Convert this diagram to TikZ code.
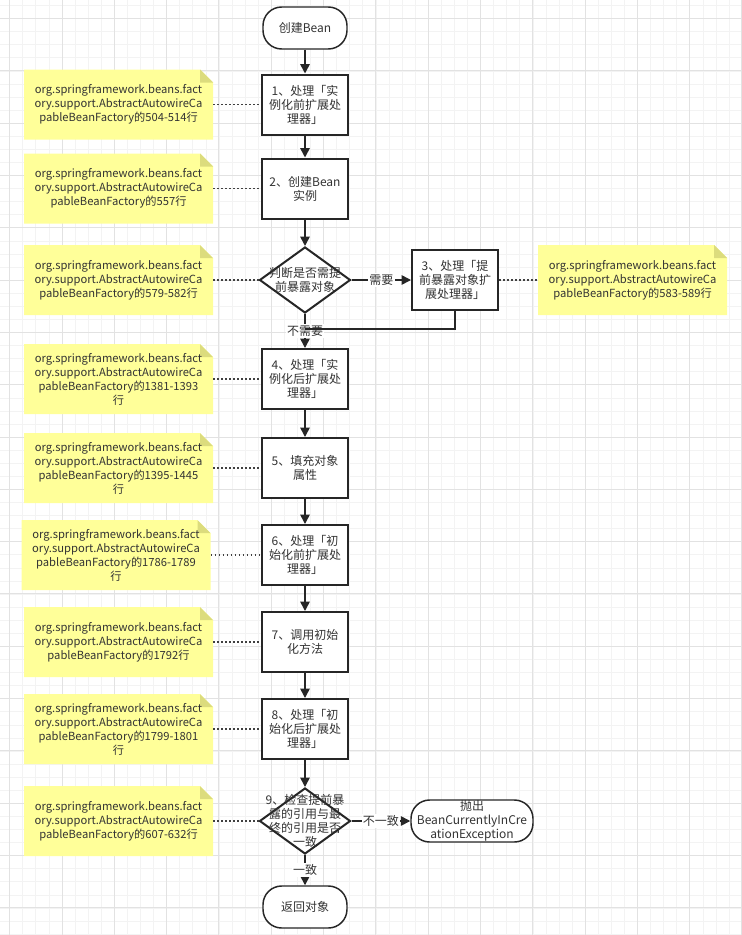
\documentclass[tikz,border=0pt]{standalone}
\usepackage{fontspec}
\setmainfont{Noto Sans CJK SC}
\usetikzlibrary{shapes.geometric,arrows.meta}

\definecolor{notefill}{RGB}{255,255,153}
\definecolor{notefold}{RGB}{220,220,125}
\definecolor{ink}{RGB}{51,51,51}
\definecolor{gridmin}{RGB}{243,243,243}
\definecolor{gridmaj}{RGB}{226,226,226}

\begin{document}
\begin{tikzpicture}[x=0.75pt,y=-0.75pt,
  font=\fontsize{9pt}{10.5pt}\selectfont,text=ink,
  flow/.style={draw=black!85,line width=1.5pt,fill=white,align=center,
    minimum width=64.5pt,minimum height=45pt,inner sep=0pt},
  term/.style={draw=black!85,line width=1.1pt,fill=white,align=center,
    rounded corners=14pt,minimum height=31.5pt,inner sep=0pt},
  decide/.style={diamond,draw=black!85,line width=1.5pt,fill=white,
    minimum width=68.25pt,minimum height=49.5pt,inner sep=0pt},
  dtext/.style={align=center,inner sep=0pt},
  notetext/.style={align=center,inner sep=0pt,font=\fontsize{8.4pt}{10.5pt}\selectfont,
    minimum width=141.75pt,minimum height=52.5pt},
  arr/.style={draw=black!85,line width=1.2pt,-{Triangle[length=7pt,width=7pt]}},
  line/.style={draw=black!85,line width=1.2pt},
  link/.style={draw=black!75,line width=0.9pt,dash pattern=on 1.2pt off 1.8pt},
  elabel/.style={fill=white,inner sep=1pt}]

% background and grid
\fill[white] (0,0) rectangle (742,935);
\useasboundingbox (0,0) rectangle (742,935);
\foreach \i in {0,...,57}
  \draw[gridmin,line width=0.6pt] (-3.38+13.08*\i,0) -- ++(0,935);
\foreach \i in {0,...,71}
  \draw[gridmin,line width=0.6pt] (0,5.52+13.08*\i) -- ++(742,0);
\foreach \i in {0,...,14}
  \draw[gridmaj,line width=0.7pt] (9.7+52.3*\i,0) -- ++(0,935);
\foreach \i in {0,...,17}
  \draw[gridmaj,line width=0.7pt] (0,18.6+52.3*\i) -- ++(742,0);

% notes
\foreach \nm/\cx/\cy/\txt in {
  n1/118.5/104.5/{org.springframework.beans.fact\\ory.support.AbstractAutowireCa\\pableBeanFactory的504-514行},
  n2/118.5/188.5/{org.springframework.beans.fact\\ory.support.AbstractAutowireCa\\pableBeanFactory的557行},
  nd/118.5/280/{org.springframework.beans.fact\\ory.support.AbstractAutowireCa\\pableBeanFactory的579-582行},
  n3/632.5/280/{org.springframework.beans.fact\\ory.support.AbstractAutowireCa\\pableBeanFactory的583-589行},
  n4/118.5/379/{org.springframework.beans.fact\\ory.support.AbstractAutowireCa\\pableBeanFactory的1381-1393\\行},
  n5/118.5/468/{org.springframework.beans.fact\\ory.support.AbstractAutowireCa\\pableBeanFactory的1395-1445\\行},
  n6/116/555/{org.springframework.beans.fact\\ory.support.AbstractAutowireCa\\pableBeanFactory的1786-1789\\行},
  n7/118.5/642/{org.springframework.beans.fact\\ory.support.AbstractAutowireCa\\pableBeanFactory的1792行},
  n8/118.5/729/{org.springframework.beans.fact\\ory.support.AbstractAutowireCa\\pableBeanFactory的1799-1801\\行},
  n9/118.5/821/{org.springframework.beans.fact\\ory.support.AbstractAutowireCa\\pableBeanFactory的607-632行}}
{
  \begin{scope}[shift={(\cx,\cy)}]
    \fill[notefill] (-94.5,-35) -- (81.5,-35) -- (94.5,-22) -- (94.5,35) -- (-94.5,35) -- cycle;
    \fill[notefold] (81.5,-35) -- (81.5,-22) -- (94.5,-22) -- cycle;
    \node[notetext] (\nm) at (0,0) {\txt};
  \end{scope}
}

% flow
\node[term,minimum width=63pt] (start) at (305,28) {创建Bean};
\node[flow] (b1) at (305,104.5) {1、处理「实\\例化前扩展处\\理器」};
\node[flow] (b2) at (305,188.5) {2、创建Bean\\实例};
\node[decide] (d1) at (305,280) {};
\node[dtext] (d1t) at (305,280) {判断是否需提\\前暴露对象};
\node[flow] (b3) at (455,280) {3、处理「提\\前暴露对象扩\\展处理器」};
\node[flow] (b4) at (305,379) {4、处理「实\\例化后扩展处\\理器」};
\node[flow] (b5) at (305,468) {5、填充对象\\属性};
\node[flow] (b6) at (305,555) {6、处理「初\\始化前扩展处\\理器」};
\node[flow] (b7) at (305,642) {7、调用初始\\化方法};
\node[flow] (b8) at (305,729) {8、处理「初\\始化后扩展处\\理器」};
\node[decide] (d9) at (305,821) {};
\node[term,minimum width=91.5pt] (exc) at (472,821) {抛出\\BeanCurrentlyInCre\\ationException};
\node[term,minimum width=63pt] (end) at (305,907) {返回对象};

\draw[arr] (start) -- (b1);
\draw[arr] (b1) -- (b2);
\draw[arr] (b2) -- (d1);
\draw[arr] (d1) -- node[elabel] {需要} (b3);
\draw[arr] (d1) -- node[elabel,pos=0.5] {不需要} (b4);
\coordinate (m3) at (455,329);
\coordinate (j3) at (305,329);
\draw[line] (b3.south) -- (m3) -- (j3);
\draw[arr] (b4) -- (b5);
\draw[arr] (b5) -- (b6);
\draw[arr] (b6) -- (b7);
\draw[arr] (b7) -- (b8);
\draw[arr] (b8) -- (d9);
\node[dtext] (d9t) at (305,821) {9、检查提前暴\\露的引用与最\\终的引用是否\\一致};
\draw[arr] (d9) -- node[elabel] {不一致} (exc);
\draw[arr] (d9) -- node[elabel] {一致} (end);

% dotted links
\foreach \a/\b in {n1/b1,n2/b2,nd/d1,n4/b4,n5/b5,n6/b6,n7/b7,n8/b8,n9/d9}
  \draw[link] (\a.east) -- (\b);
\draw[link] (b3) -- (n3.west);
\end{tikzpicture}
\end{document}
